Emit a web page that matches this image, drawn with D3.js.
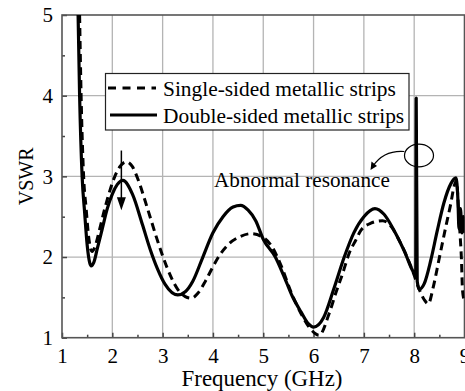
<!DOCTYPE html>
<html>
<head>
<meta charset="utf-8">
<script src="https://d3js.org/d3.v7.min.js"></script>
<style>
  body { margin: 0; background: #fff; }
  svg { display: block; }
  text { font-family: "Liberation Serif", "Times New Roman", Times, "DejaVu Serif", serif; }
</style>
</head>
<body>
<svg width="465" height="391"></svg>
<script>
// tick labels
var xTicks = [1, 2, 3, 4, 5, 6, 7, 8, 9];
var yTicks = [1, 2, 3, 4, 5];
var seriesNames = ["Single-sided metallic strips", "Double-sided metallic strips"];

// single-sided (dashed)
var singleFreq = [1.35, 1.38, 1.43, 1.48, 1.53, 1.57, 1.60, 1.65, 1.75, 1.85, 1.95, 2.05, 2.15, 2.28, 2.4, 2.5, 2.7, 2.9, 3.1, 3.3, 3.45, 3.57, 3.7, 3.85, 4.0, 4.13, 4.33, 4.53, 4.76, 4.98, 5.15, 5.35, 5.55, 5.75, 5.95, 6.11, 6.31, 6.44, 6.58, 6.71, 6.84, 6.94, 7.14, 7.37, 7.54, 7.7, 7.98, 8.1, 8.2, 8.28, 8.38, 8.49, 8.63, 8.73, 8.79, 8.84, 8.88, 8.91, 8.94, 8.96, 9.0];
var singleVswr = [5.0, 4.0, 3.0, 2.6, 2.25, 2.1, 2.07, 2.12, 2.35, 2.6, 2.82, 3.0, 3.12, 3.18, 3.12, 2.98, 2.6, 2.2, 1.85, 1.6, 1.51, 1.49, 1.55, 1.7, 1.88, 2.02, 2.17, 2.25, 2.29, 2.25, 2.15, 1.9, 1.57, 1.3, 1.1, 1.03, 1.3, 1.55, 1.8, 2.05, 2.21, 2.33, 2.42, 2.45, 2.38, 2.21, 1.81, 1.6, 1.47, 1.42, 1.63, 1.96, 2.38, 2.67, 2.87, 2.95, 2.6, 2.3, 1.96, 1.59, 1.45];

// double-sided (solid), with the abnormal spike near 8.04 GHz
var doubleFreq = [1.32, 1.35, 1.40, 1.45, 1.50, 1.55, 1.58, 1.63, 1.70, 1.80, 1.90, 2.0, 2.1, 2.21, 2.4, 2.6, 2.75, 2.9, 3.05, 3.3, 3.45, 3.6, 3.8, 4.0, 4.2, 4.4, 4.55, 4.7, 4.85, 5.0, 5.24, 5.4, 5.58, 5.75, 5.9, 6.0, 6.2, 6.4, 6.61, 6.8, 7.0, 7.22, 7.4, 7.6, 7.8, 8.0, 8.03, 8.04, 8.06, 8.1, 8.2, 8.33, 8.46, 8.59, 8.73, 8.83, 8.87, 8.89, 8.92, 8.95, 8.98, 9.0];
var doubleVswr = [5.0, 4.0, 3.0, 2.55, 2.15, 1.93, 1.89, 1.93, 2.1, 2.35, 2.6, 2.78, 2.9, 2.95, 2.78, 2.4, 2.1, 1.85, 1.66, 1.53, 1.57, 1.7, 2.0, 2.3, 2.5, 2.62, 2.64, 2.58, 2.45, 2.22, 2.0, 1.78, 1.51, 1.32, 1.17, 1.13, 1.25, 1.6, 2.0, 2.3, 2.5, 2.6, 2.53, 2.33, 2.08, 1.8, 1.78, 3.97, 1.7, 1.6, 1.67, 1.96, 2.33, 2.67, 2.91, 2.98, 2.7, 2.35, 2.6, 2.3, 2.5, 2.3];

var svg = d3.select("svg"),
    pl = 62, pr = 464.5, pt = 15, pb = 337.7;

var x = d3.scaleLinear().domain([1, 9]).range([pl, pr]),
    y = d3.scaleLinear().domain([1, 5]).range([pb, pt]);

// shrink/grow a text so it spans the given width
function fit(sel, w) {
  var fs = parseFloat(sel.attr("font-size"));
  var len = sel.node().getComputedTextLength();
  if (len > 0) sel.attr("font-size", (fs * w / len).toFixed(2) + "px");
  return sel;
}

svg.append("defs").append("clipPath").attr("id", "plot")
   .append("rect").attr("x", pl).attr("y", pt)
   .attr("width", pr - pl).attr("height", pb - pt);

// grid
svg.append("g").selectAll("line").data(xTicks.slice(1, -1)).enter().append("line")
   .attr("x1", d => x(d)).attr("x2", d => x(d)).attr("y1", pt).attr("y2", pb)
   .attr("stroke", "#b4b4b4").attr("stroke-width", 1.3);
svg.append("g").selectAll("line").data(yTicks.slice(1, -1)).enter().append("line")
   .attr("y1", d => y(d)).attr("y2", d => y(d)).attr("x1", pl).attr("x2", pr)
   .attr("stroke", "#b4b4b4").attr("stroke-width", 1.3);

// axes, ticks point inward
svg.append("g").attr("transform", "translate(0," + pb + ")")
   .call(d3.axisBottom(x).tickValues(xTicks).tickSize(-5).tickPadding(10).tickFormat(d3.format("d")));
svg.append("g").attr("transform", "translate(0," + pb + ")")
   .call(d3.axisBottom(x).tickValues(d3.range(1.5, 9, 1)).tickSize(-3).tickFormat(""));
svg.append("g").attr("transform", "translate(" + pl + ",0)")
   .call(d3.axisLeft(y).tickValues(yTicks).tickSize(-5).tickPadding(9).tickFormat(d3.format("d")));
svg.append("g").attr("transform", "translate(" + pl + ",0)")
   .call(d3.axisLeft(y).tickValues(d3.range(1.5, 5, 1)).tickSize(-3).tickFormat(""));

svg.selectAll(".domain").remove();
svg.selectAll(".tick line").attr("stroke", "#444").attr("stroke-width", 1.5);
svg.selectAll(".tick text")
   .attr("font-family", "Liberation Serif, Times New Roman, serif")
   .attr("font-size", "21px").attr("fill", "#000");

// frame
svg.append("rect").attr("x", pl).attr("y", pt)
   .attr("width", pr - pl).attr("height", pb - pt)
   .attr("fill", "none").attr("stroke", "#555").attr("stroke-width", 1.6);

// curves
var line = d3.line().x(d => x(d[0])).y(d => y(d[1])).curve(d3.curveMonotoneX);
var g = svg.append("g").attr("clip-path", "url(#plot)");

g.append("path").datum(d3.zip(singleFreq, singleVswr))
 .attr("d", line).attr("fill", "none").attr("stroke", "#000")
 .attr("stroke-width", 3).attr("stroke-dasharray", "8,5");

g.append("path").datum(d3.zip(doubleFreq, doubleVswr))
 .attr("d", line).attr("fill", "none").attr("stroke", "#000")
 .attr("stroke-width", 3.2).attr("stroke-linejoin", "round");

// legend
var lg = svg.append("g");
lg.append("rect").attr("x", 105.5).attr("y", 73.5).attr("width", 303.5).attr("height", 56.5)
  .attr("fill", "#fff").attr("stroke", "#222").attr("stroke-width", 1.2);
lg.append("line").attr("x1", 108).attr("x2", 156).attr("y1", 88).attr("y2", 88)
  .attr("stroke", "#000").attr("stroke-width", 3).attr("stroke-dasharray", "8,6.5");
lg.append("line").attr("x1", 110).attr("x2", 157).attr("y1", 115).attr("y2", 115)
  .attr("stroke", "#000").attr("stroke-width", 3);
lg.selectAll("text").data(seriesNames).enter().append("text")
  .attr("x", 163).attr("y", (d, i) => 95.5 + i * 27)
  .attr("font-size", "21px").text(d => d);
fit(lg.select("text"), 233);
lg.selectAll("text").attr("font-size", lg.select("text").attr("font-size"));

// annotation: arrow at the first peak
var ax = x(2.18);
svg.append("line").attr("x1", ax).attr("x2", ax).attr("y1", y(3.32)).attr("y2", y(2.7))
   .attr("stroke", "#000").attr("stroke-width", 1.5);
svg.append("path")
   .attr("d", "M" + (ax - 4.5) + "," + y(2.74) + "L" + (ax + 4.5) + "," + y(2.74) + "L" + ax + "," + y(2.58) + "Z")
   .attr("fill", "#000");

// annotation: abnormal resonance
svg.append("ellipse").attr("cx", 419).attr("cy", 155.5).attr("rx", 14.5).attr("ry", 11.3)
   .attr("fill", "none").attr("stroke", "#000").attr("stroke-width", 1.2);
svg.append("path").attr("d", "M404.3,151.5 Q384,150 373,166")
   .attr("fill", "none").attr("stroke", "#000").attr("stroke-width", 1.2);
svg.append("path").attr("d", "M370.5,170 L371.5,161.5 L377,166 Z").attr("fill", "#000");
fit(svg.append("text").attr("x", 214).attr("y", 187).attr("font-size", "21px").text("Abnormal resonance"), 176);

// axis titles
fit(svg.append("text").attr("x", 262).attr("y", 386)
   .attr("text-anchor", "middle").attr("font-size", "22px").text("Frequency (GHz)"), 161);
fit(svg.append("text").attr("transform", "translate(33," + (pt + pb) / 2 + ") rotate(-90)")
   .attr("text-anchor", "middle").attr("font-size", "22px").text("VSWR"), 58);
</script>
</body>
</html>
